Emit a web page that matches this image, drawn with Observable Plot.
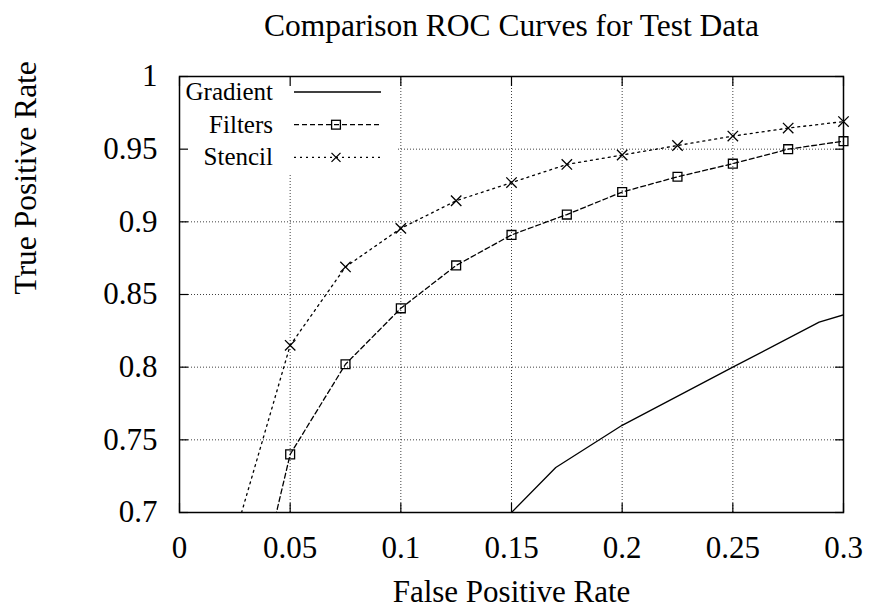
<!DOCTYPE html>
<html>
<head>
<meta charset="utf-8">
<script src="https://cdn.jsdelivr.net/npm/d3@7"></script>
<script src="https://cdn.jsdelivr.net/npm/@observablehq/plot@0.6"></script>
<style>
  html, body { margin: 0; padding: 0; background: #fff; }
  #chart { width: 871px; height: 610px; }
</style>
</head>
<body>
<div id="chart"></div>
<script>
// ---- data ----
const fpr = [0.025, 0.05, 0.075, 0.1, 0.125, 0.15, 0.175, 0.2, 0.225, 0.25, 0.275, 0.3];
const filtersTpr = [0.579, 0.740, 0.802, 0.8405, 0.870, 0.891, 0.905, 0.9205, 0.931, 0.940, 0.950, 0.9555];
const stencilTpr = [0.684, 0.815, 0.869, 0.8955, 0.9145, 0.927, 0.9395, 0.946, 0.9525, 0.959, 0.9645, 0.969];
const gradientFpr = [0.14, 0.17, 0.2, 0.25, 0.289, 0.3];
const gradientTpr = [0.6845, 0.731, 0.760, 0.800, 0.831, 0.836];
const seriesNames = ["Gradient", "Filters", "Stencil"];
const xTicks = [0, 0.05, 0.1, 0.15, 0.2, 0.25, 0.3];
const xTickLabels = ["0", "0.05", "0.1", "0.15", "0.2", "0.25", "0.3"];
const yTicks = [0.7, 0.75, 0.8, 0.85, 0.9, 0.95, 1];
const yTickLabels = ["0.7", "0.75", "0.8", "0.85", "0.9", "0.95", "1"];
const titleText = "Comparison ROC Curves for Test Data";
const xLabelText = "False Positive Rate";
const yLabelText = "True Positive Rate";

const filters = fpr.map((x, i) => ({x, y: filtersTpr[i]}));
const stencil = fpr.map((x, i) => ({x, y: stencilTpr[i]}));
const gradient = gradientFpr.map((x, i) => ({x, y: gradientTpr[i]}));
const inRange = d => d.x >= 0 && d.x <= 0.3 && d.y >= 0.7 && d.y <= 1;

const FONT = "Liberation Serif, Times New Roman, serif";
const dashes = {Gradient: null, Filters: "5,3", Stencil: "2,4"};

const plot = Plot.plot({
  width: 871,
  height: 610,
  marginLeft: 179,
  marginRight: 28,
  marginTop: 76,
  marginBottom: 98,
  style: {fontFamily: FONT, background: "#fff", color: "#000"},
  x: {domain: [0, 0.3], label: null},
  y: {domain: [0.7, 1], label: null},
  marks: [
    Plot.gridX(xTicks, {stroke: "#000", strokeOpacity: 0.75, strokeDasharray: "1,2"}),
    Plot.gridY(yTicks, {stroke: "#000", strokeOpacity: 0.75, strokeDasharray: "1,2"}),
    Plot.frame({stroke: "#000", strokeWidth: 1.5}),
    // inward ticks on all four sides
    Plot.axisX(xTicks, {anchor: "bottom", tickSize: -9, tickFormat: () => "", strokeWidth: 1.2}),
    Plot.axisX(xTicks, {anchor: "top", tickSize: -9, tickFormat: () => "", strokeWidth: 1.2}),
    Plot.axisY(yTicks, {anchor: "left", tickSize: -9, tickFormat: () => "", strokeWidth: 1.2}),
    Plot.axisY(yTicks, {anchor: "right", tickSize: -9, tickFormat: () => "", strokeWidth: 1.2}),
    // tick labels
    Plot.axisX(xTicks, {anchor: "bottom", tickSize: 0, tickPadding: 23, fontSize: 31,
      fontFamily: FONT, fontVariant: "normal",
      tickFormat: d => xTickLabels[xTicks.indexOf(d)]}),
    Plot.axisY(yTicks, {anchor: "left", tickSize: 0, tickPadding: 22, fontSize: 31,
      fontFamily: FONT, fontVariant: "normal",
      tickFormat: d => yTickLabels[yTicks.indexOf(d)]}),
    // series
    Plot.line(gradient, {x: "x", y: "y", stroke: "#000", strokeWidth: 1.3, clip: true}),
    Plot.line(filters, {x: "x", y: "y", stroke: "#000", strokeWidth: 1.3, strokeDasharray: dashes.Filters, clip: true}),
    Plot.line(stencil, {x: "x", y: "y", stroke: "#000", strokeWidth: 1.3, strokeDasharray: dashes.Stencil, clip: true}),
    Plot.dot(filters.filter(inRange), {x: "x", y: "y", symbol: "square", r: 5, stroke: "#000", strokeWidth: 1.3, fill: "none"}),
    Plot.dot(stencil.filter(inRange), {x: "x", y: "y", symbol: "times", r: 4.8, stroke: "#000", strokeWidth: 1.3}),
    // titles
    Plot.text([titleText], {frameAnchor: "top", dy: -51, fontSize: 31.5, fontFamily: FONT, lineAnchor: "middle", fill: "#000"}),
    Plot.text([xLabelText], {frameAnchor: "bottom", dy: 80, fontSize: 31, fontFamily: FONT, lineAnchor: "middle", fill: "#000"}),
    Plot.text([yLabelText], {frameAnchor: "left", dx: -154, rotate: -90, fontSize: 31.5, fontFamily: FONT, lineAnchor: "middle", fill: "#000"})
  ]
});

// ---- legend (key) drawn in the top-left corner, opaque like gnuplot ----
const svgSel = d3.select(plot);
const xScale = plot.scale("x"), yScale = plot.scale("y");
const frameLeft = xScale.range[0], frameTop = yScale.range[1];
const frameNode = plot.querySelector("[aria-label=frame]");
const keyBox = svgSel.insert("g", () => frameNode).attr("aria-label", "legend");
keyBox.append("rect").attr("x", frameLeft + 0.5).attr("y", frameTop + 0.5).attr("width", 218).attr("height", 98).attr("fill", "#fff");
const keyEntries = svgSel.append("g").attr("aria-label", "legend-entries").attr("font-family", FONT);
seriesNames.forEach((name, i) => {
  const cy = frameTop + 16 + i * 32.7;
  keyEntries.append("text").attr("x", frameLeft + 94).attr("y", cy).attr("dy", "0.32em")
    .attr("text-anchor", "end").attr("font-size", 25).attr("fill", "#000").text(name);
  keyEntries.append("line").attr("x1", frameLeft + 115).attr("x2", frameLeft + 202).attr("y1", cy).attr("y2", cy)
    .attr("stroke", "#000").attr("stroke-width", 1.3).attr("stroke-dasharray", dashes[name]);
  const mx = frameLeft + 157;
  if (name === "Filters") {
    keyEntries.append("rect").attr("x", mx - 4.4).attr("y", cy - 4.4).attr("width", 8.8).attr("height", 8.8)
      .attr("fill", "none").attr("stroke", "#000").attr("stroke-width", 1.3);
  } else if (name === "Stencil") {
    keyEntries.append("path").attr("d", `M${mx - 4.5},${cy - 4.5}L${mx + 4.5},${cy + 4.5}M${mx - 4.5},${cy + 4.5}L${mx + 4.5},${cy - 4.5}`)
      .attr("stroke", "#000").attr("stroke-width", 1.3);
  }
});

document.getElementById("chart").appendChild(plot);
</script>
</body>
</html>
